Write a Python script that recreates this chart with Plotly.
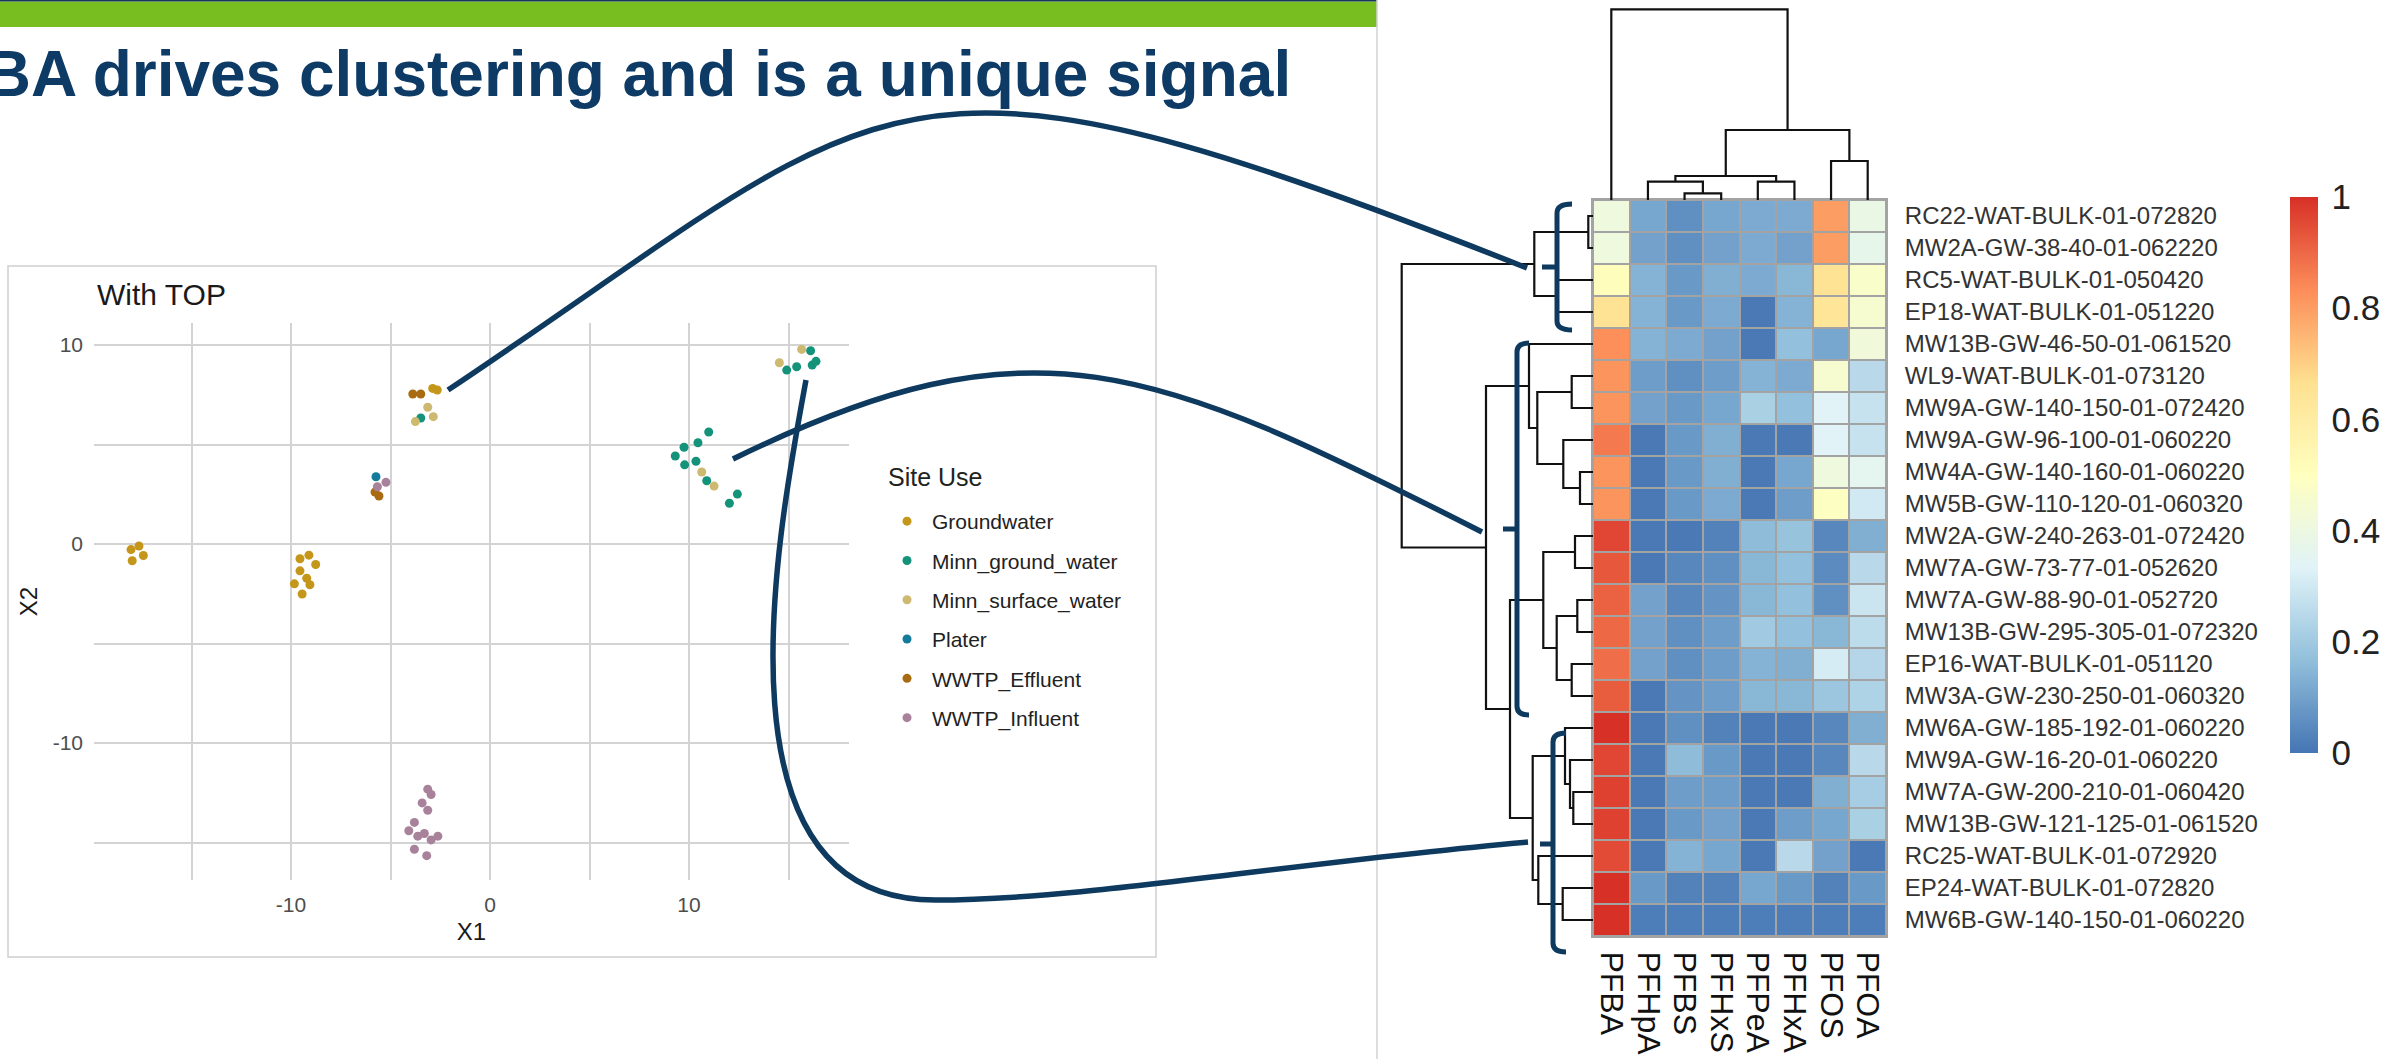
import plotly.graph_objects as go

W, H = 2389, 1059
FONT = "Liberation Sans, Arial, Helvetica, sans-serif"


def px(x):
    return x / W


def py(y):
    return 1 - y / H


# ---------------- scatter (t-SNE style) data ----------------
site_uses = ["Groundwater", "Minn_ground_water", "Minn_surface_water",
             "Plater", "WWTP_Effluent", "WWTP_Influent"]
site_colors = ["#C4961A", "#14927A", "#CDB96F", "#137B9C", "#A86B12", "#A8819A"]

groundwater_x = [-18.04, -17.64, -17.42, -17.98, -9.55, -9.10, -8.76, -9.55,
                 -9.21, -9.83, -9.05, -9.44, -2.88, -2.65]
groundwater_y = [-0.28, -0.10, -0.58, -0.84, -0.74, -0.56, -1.03, -1.35,
                 -1.72, -2.00, -2.05, -2.51, 7.82, 7.74]
minn_gw_x = [-3.48, 10.99, 10.45, 9.75, 9.31, 9.78, 10.35, 10.89, 12.43, 12.03,
             14.91, 15.41, 16.11, 16.19, 16.38]
minn_gw_y = [6.33, 5.63, 5.09, 4.86, 4.42, 3.98, 4.16, 3.18, 2.51, 2.05,
             8.74, 8.91, 9.71, 8.99, 9.18]
minn_sw_x = [-3.13, -2.85, -3.75, 10.64, 11.26, 14.54, 15.66]
minn_sw_y = [6.87, 6.40, 6.15, 3.62, 2.91, 9.11, 9.78]
plater_x = [-5.73]
plater_y = [3.38]
effluent_x = [-3.88, -3.48, -5.78, -5.58]
effluent_y = [7.54, 7.54, 2.61, 2.41]
influent_x = [-5.23, -5.66, -3.13, -2.96, -3.41, -3.13, -3.80, -4.08, -3.63,
              -3.30, -2.96, -2.62, -3.80, -3.18]
influent_y = [3.10, 2.88, -12.32, -12.59, -13.01, -13.38, -13.99, -14.41, -14.68,
              -14.55, -14.87, -14.68, -15.34, -15.66]

scatter_x = [groundwater_x, minn_gw_x, minn_sw_x, plater_x, effluent_x, influent_x]
scatter_y = [groundwater_y, minn_gw_y, minn_sw_y, plater_y, effluent_y, influent_y]

x_tickvals = [-15, -10, -5, 0, 5, 10, 15]
x_ticktext = ["", "-10", "", "0", "", "10", ""]
y_tickvals = [-15, -10, -5, 0, 5, 10]
y_ticktext = ["", "-10", "", "0", "", "10"]

# ---------------- heatmap data ----------------
samples = ["RC22-WAT-BULK-01-072820", "MW2A-GW-38-40-01-062220", "RC5-WAT-BULK-01-050420",
           "EP18-WAT-BULK-01-051220", "MW13B-GW-46-50-01-061520", "WL9-WAT-BULK-01-073120",
           "MW9A-GW-140-150-01-072420", "MW9A-GW-96-100-01-060220", "MW4A-GW-140-160-01-060220",
           "MW5B-GW-110-120-01-060320", "MW2A-GW-240-263-01-072420", "MW7A-GW-73-77-01-052620",
           "MW7A-GW-88-90-01-052720", "MW13B-GW-295-305-01-072320", "EP16-WAT-BULK-01-051120",
           "MW3A-GW-230-250-01-060320", "MW6A-GW-185-192-01-060220", "MW9A-GW-16-20-01-060220",
           "MW7A-GW-200-210-01-060420", "MW13B-GW-121-125-01-061520", "RC25-WAT-BULK-01-072920",
           "EP24-WAT-BULK-01-072820", "MW6B-GW-140-150-01-060220"]
compounds = ["PFBA", "PFHpA", "PFBS", "PFHxS", "PFPeA", "PFHxA", "PFOS", "PFOA"]

pfba = [0.41, 0.41, 0.51, 0.65, 0.83, 0.82, 0.82, 0.87, 0.82, 0.82, 0.96, 0.93,
        0.91, 0.90, 0.89, 0.92, 1.00, 0.96, 0.97, 0.97, 0.95, 1.00, 1.00]
pfhpa = [0.11, 0.10, 0.14, 0.14, 0.14, 0.09, 0.10, 0.01, 0.01, 0.01, 0.01, 0.01,
         0.10, 0.10, 0.10, 0.01, 0.01, 0.01, 0.01, 0.01, 0.01, 0.08, 0.02]
pfbs = [0.06, 0.06, 0.08, 0.08, 0.12, 0.06, 0.08, 0.08, 0.08, 0.08, 0.01, 0.04,
        0.04, 0.06, 0.06, 0.07, 0.06, 0.16, 0.09, 0.08, 0.14, 0.03, 0.02]
pfhxs = [0.11, 0.10, 0.13, 0.12, 0.10, 0.09, 0.11, 0.13, 0.13, 0.12, 0.03, 0.06,
         0.07, 0.09, 0.09, 0.09, 0.03, 0.08, 0.09, 0.10, 0.11, 0.03, 0.02]
pfpea = [0.12, 0.12, 0.12, 0.01, 0.01, 0.14, 0.22, 0.01, 0.01, 0.01, 0.16, 0.15,
         0.15, 0.20, 0.14, 0.15, 0.01, 0.01, 0.01, 0.01, 0.01, 0.11, 0.02]
pfhxa = [0.12, 0.10, 0.15, 0.14, 0.17, 0.12, 0.17, 0.01, 0.11, 0.09, 0.18, 0.17,
         0.17, 0.17, 0.13, 0.15, 0.01, 0.01, 0.01, 0.09, 0.25, 0.08, 0.02]
pfos = [0.80, 0.80, 0.65, 0.64, 0.11, 0.45, 0.34, 0.34, 0.41, 0.49, 0.04, 0.05,
        0.06, 0.15, 0.31, 0.19, 0.04, 0.04, 0.13, 0.11, 0.10, 0.03, 0.02]
pfoa = [0.39, 0.37, 0.47, 0.45, 0.42, 0.25, 0.28, 0.28, 0.36, 0.30, 0.13, 0.25,
        0.29, 0.26, 0.24, 0.23, 0.13, 0.25, 0.21, 0.22, 0.01, 0.08, 0.02]
compound_values = [pfba, pfhpa, pfbs, pfhxs, pfpea, pfhxa, pfos, pfoa]

colorbar_ticks = [0, 0.2, 0.4, 0.6, 0.8, 1]
colorbar_labels = ["0", "0.2", "0.4", "0.6", "0.8", "1"]
heat_colors = ["#4575B4", "#91BFDB", "#E0F3F8", "#FFFFBF", "#FEE090", "#FC8D59", "#D73027"]

# dendrogram merges: (left node, right node, height)
col_merges = [(2, 3, 6.7), (1, 8, 18.3), (4, 5, 18.3), (9, 10, 24.0),
              (6, 7, 39.0), (11, 12, 70.0), (0, 13, 190.7)]
row_merges = [(0, 1, 4.7), (2, 3, 36.3), (23, 24, 58.7), (5, 6, 21.3), (8, 9, 13.0),
              (7, 27, 29.7), (26, 28, 55.7), (4, 29, 64.0), (10, 11, 18.0),
              (12, 13, 15.7), (14, 15, 21.3), (32, 33, 36.3), (31, 34, 49.7),
              (18, 19, 19.7), (17, 36, 23.0), (16, 37, 28.0), (21, 22, 30.3),
              (20, 39, 54.7), (38, 40, 60.3), (35, 41, 83.0), (30, 42, 107.0),
              (25, 43, 191.3)]


def dendro_lines(n_leaves, merges):
    pos = list(range(n_leaves))
    hgt = [0.0] * n_leaves
    p_out, h_out = [], []
    for a, b, hh in merges:
        p_out += [pos[a], pos[a], pos[b], pos[b], None]
        h_out += [hgt[a], hh, hh, hgt[b], None]
        pos.append((pos[a] + pos[b]) / 2)
        hgt.append(hh)
    return p_out, h_out


fig = go.Figure()

for name, col, xs, ys in zip(site_uses, site_colors, scatter_x, scatter_y):
    fig.add_trace(go.Scatter(x=xs, y=ys, mode="markers", name=name, legendgroup=name,
                             marker=dict(color=col, size=9, line=dict(width=0)),
                             xaxis="x", yaxis="y"))

z_rows = [list(r) for r in zip(*compound_values)]
n = len(heat_colors)
fig.add_trace(go.Heatmap(
    z=z_rows, x=list(range(len(compounds))), y=list(range(len(samples))),
    xaxis="x2", yaxis="y2", zmin=0, zmax=1, xgap=2, ygap=2,
    colorscale=[[i / (n - 1), c] for i, c in enumerate(heat_colors)],
    showlegend=False, hoverinfo="skip",
    colorbar=dict(x=px(2290), xanchor="left", y=py(475), yanchor="middle",
                  len=556, lenmode="pixels", thickness=28, thicknessmode="pixels",
                  xpad=0, ypad=0,
                  outlinewidth=0, tickvals=colorbar_ticks, ticktext=colorbar_labels,
                  ticks="outside", ticklen=7, tickcolor="rgba(0,0,0,0)",
                  tickfont=dict(size=35, color="#222222", family=FONT))))

cp, ch = dendro_lines(len(compounds), col_merges)
fig.add_trace(go.Scatter(x=cp, y=ch, mode="lines", xaxis="x3", yaxis="y3",
                         line=dict(color="#111111", width=2.2), showlegend=False,
                         hoverinfo="skip", cliponaxis=False))
rp, rh = dendro_lines(len(samples), row_merges)
fig.add_trace(go.Scatter(x=rh, y=rp, mode="lines", xaxis="x4", yaxis="y4",
                         line=dict(color="#111111", width=2.2), showlegend=False,
                         hoverinfo="skip", cliponaxis=False))


def bez(points):
    pts = [(px(x), py(y)) for x, y in points]
    s = "M %.5f,%.5f" % pts[0]
    rest = pts[1:]
    for i in range(0, len(rest), 3):
        s += " C " + " ".join("%.5f,%.5f" % p for p in rest[i:i + 3])
    return s


def bracket(x, y0, y1, hook, ytick, tick):
    r = 9
    pts0 = [(px(x + hook), py(y0)), (px(x), py(y0)), (px(x), py(y0 + r))]
    pts1 = [(px(x), py(y1 - r)), (px(x), py(y1)), (px(x + hook), py(y1))]
    s = "M %.5f,%.5f Q %.5f,%.5f %.5f,%.5f" % (pts0[0] + pts0[1] + pts0[2])
    s += " L %.5f,%.5f Q %.5f,%.5f %.5f,%.5f" % (pts1[0] + pts1[1] + pts1[2])
    s += " M %.5f,%.5f L %.5f,%.5f" % (px(x - tick), py(ytick), px(x), py(ytick))
    return s


NAVY = "#0E3A5F"
shapes = [
    dict(type="rect", xref="paper", yref="paper", x0=0, x1=px(1377), y0=py(27), y1=py(1.5),
         fillcolor="#79BE21", line=dict(width=0), layer="below"),
    dict(type="rect", xref="paper", yref="paper", x0=0, x1=px(1377), y0=py(1.5), y1=1,
         fillcolor="#16365C", line=dict(width=0), layer="below"),
    dict(type="line", xref="paper", yref="paper", x0=px(1377), x1=px(1377), y0=0, y1=1,
         line=dict(color="#D2D2D2", width=1.5), layer="below"),
    dict(type="rect", xref="paper", yref="paper", x0=px(8), x1=px(1156), y0=py(957), y1=py(266),
         line=dict(color="#D0D0D0", width=1.5), fillcolor="rgba(0,0,0,0)", layer="below"),
    dict(type="rect", xref="x2", yref="y2", x0=-0.5, x1=len(compounds) - 0.5,
         y0=-0.5, y1=len(samples) - 0.5, fillcolor="#A3A3A3", line=dict(width=0), layer="below"),
    # arrows
    dict(type="path", xref="paper", yref="paper", layer="above",
         path=bez([(448, 390), (898, 90), (877, 10), (1527, 268)]),
         line=dict(color=NAVY, width=5.5)),
    dict(type="path", xref="paper", yref="paper", layer="above",
         path=bez([(733, 459), (1033, 312), (1152, 364), (1482, 532)]),
         line=dict(color=NAVY, width=5.5)),
    dict(type="path", xref="paper", yref="paper", layer="above",
         path=bez([(806, 380), (779, 528), (705, 900), (935, 900),
                   (1085, 900), (1278, 864), (1528, 842)]),
         line=dict(color=NAVY, width=5.5)),
    # brackets
    dict(type="path", xref="paper", yref="paper", layer="above",
         path=bracket(1557, 204, 330, 15, 267, 15), line=dict(color=NAVY, width=5)),
    dict(type="path", xref="paper", yref="paper", layer="above",
         path=bracket(1517, 343, 715, 12, 529, 14), line=dict(color=NAVY, width=5)),
    dict(type="path", xref="paper", yref="paper", layer="above",
         path=bracket(1553, 733, 952, 13, 844, 13), line=dict(color=NAVY, width=5)),
]

annotations = [
    dict(text="PFBA drives clustering and is a unique signal", xref="paper", yref="paper",
         x=px(1293), y=py(74), xanchor="right", yanchor="middle", showarrow=False,
         font=dict(family=FONT, size=64, color="#0D3B66", weight="bold")),
    dict(text="With TOP", xref="paper", yref="paper", x=px(95), y=py(294),
         xanchor="left", yanchor="middle", showarrow=False,
         font=dict(family=FONT, size=30, color="#1A1A1A")),
    dict(text="Site Use", xref="paper", yref="paper", x=px(886), y=py(477),
         xanchor="left", yanchor="middle", showarrow=False,
         font=dict(family=FONT, size=25, color="#222222")),
]

axis_common = dict(zeroline=False, showline=False, automargin=False)
fig.update_layout(
    width=W, height=H, margin=dict(l=0, r=0, t=0, b=0),
    paper_bgcolor="white", plot_bgcolor="white",
    font=dict(family=FONT, color="#222222"),
    xaxis=dict(domain=[px(94), px(849)], range=[-19.9, 18.04], anchor="y",
               tickvals=x_tickvals, ticktext=x_ticktext, showgrid=True,
               gridcolor="#D3D3D3", gridwidth=1.6, ticks="", ticklabelstandoff=10,
               tickfont=dict(size=21, color="#4D4D4D"),
               title=dict(text="X1", font=dict(size=24, color="#1A1A1A"), standoff=8),
               **axis_common),
    yaxis=dict(domain=[py(880), py(323)], range=[-16.884, 11.106], anchor="x",
               tickvals=y_tickvals, ticktext=y_ticktext, showgrid=True,
               gridcolor="#D3D3D3", gridwidth=1.6, ticks="", ticklabelstandoff=10,
               tickfont=dict(size=21, color="#4D4D4D"),
               title=dict(text="X2", font=dict(size=24, color="#1A1A1A"), standoff=8),
               **axis_common),
    xaxis2=dict(domain=[px(1593), px(1886)], range=[-0.5, 7.5], anchor="y2",
                tickvals=list(range(len(compounds))), ticktext=compounds, tickangle=90,
                tickfont=dict(size=32, color="#111111"), ticks="", showgrid=False,
                ticklabelstandoff=7, zeroline=False, automargin=False,
                showline=True, mirror=True, linecolor="#A3A3A3", linewidth=2),
    yaxis2=dict(domain=[py(936), py(200)], range=[22.5, -0.5], anchor="x2", side="right",
                tickvals=list(range(len(samples))), ticktext=samples,
                tickfont=dict(size=24, color="#333333"), ticks="", showgrid=False,
                ticklabelstandoff=12, zeroline=False, automargin=False,
                showline=True, mirror=True, linecolor="#A3A3A3", linewidth=2),
    xaxis3=dict(domain=[px(1593), px(1886)], range=[-0.5, 7.5], anchor="y3", visible=False),
    yaxis3=dict(domain=[py(200), py(0)], range=[0, 200], anchor="x3", visible=False),
    xaxis4=dict(domain=[px(1380), px(1593)], range=[213, 0], anchor="y4", visible=False),
    yaxis4=dict(domain=[py(936), py(200)], range=[22.5, -0.5], anchor="x4", visible=False),
    legend=dict(x=px(882), y=py(501), xanchor="left", yanchor="top",
                font=dict(size=21, color="#222222"), tracegroupgap=9,
                bgcolor="rgba(0,0,0,0)", itemwidth=40),
    shapes=shapes, annotations=annotations,
)

fig.write_html("out.html", config={"displayModeBar": False},
               post_script="document.body.style.margin='0';document.body.style.overflow='hidden';")
